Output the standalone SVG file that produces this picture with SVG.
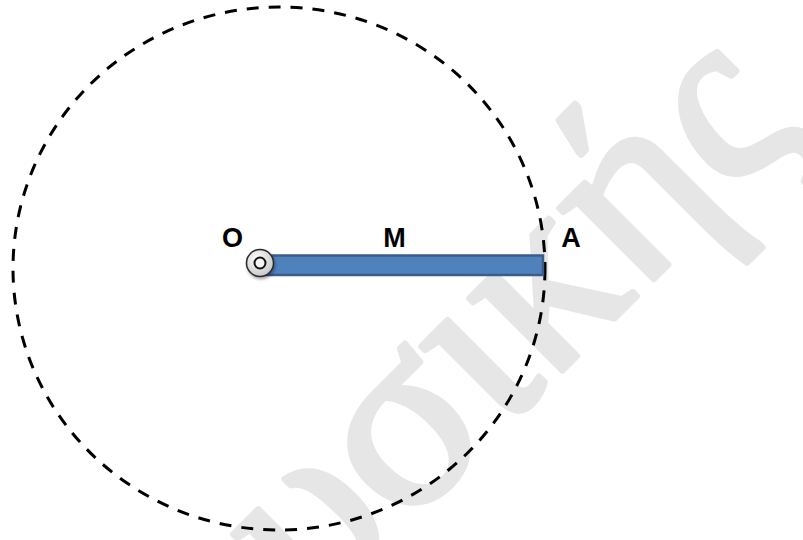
<svg xmlns="http://www.w3.org/2000/svg" width="803" height="540" viewBox="0 0 803 540">
  <defs>
    <radialGradient id="pivotGrad" cx="0.4" cy="0.35" r="0.7">
      <stop offset="0" stop-color="#ffffff"/>
      <stop offset="1" stop-color="#c4c4c4"/>
    </radialGradient>
    <filter id="shadow" x="-50%" y="-50%" width="200%" height="200%">
      <feDropShadow dx="1" dy="2" stdDeviation="1.5" flood-color="#000" flood-opacity="0.35"/>
    </filter>
  </defs>
  <style>
    .label { font-family: "Liberation Sans", Arial, sans-serif; font-weight: bold; font-size: 27px; fill: #000; text-anchor: middle; }
    .wm { font-family: "Liberation Serif", "DejaVu Serif", serif; font-size: 255px; fill: #e6e6e6; stroke: #e6e6e6; stroke-width: 6; stroke-linejoin: round; }
  </style>
  <rect width="803" height="540" fill="#ffffff"/>
  <g id="watermark">
    <text class="wm" x="0" y="0" text-anchor="end" transform="translate(805,128) rotate(-45)">Φυσικής</text>
  </g>
  <g id="connectors">
    <ellipse id="path" cx="279" cy="268.5" rx="266" ry="261.5" fill="none" stroke="#000" stroke-width="3" stroke-dasharray="12 10"/>
  </g>
  <g id="bar">
    <rect x="262" y="255.5" width="281" height="19.5" fill="#4f81bd" stroke="#3a5d89" stroke-width="2.5"/>
  </g>
  <g id="pivot">
    <circle cx="260" cy="263" r="13.5" fill="url(#pivotGrad)" stroke="#2a2a2a" stroke-width="1.5" filter="url(#shadow)"/>
    <circle cx="260" cy="263" r="5.5" fill="#f4f4f4" stroke="#111" stroke-width="2"/>
  </g>
  <g id="labels">
    <text class="label" x="232.5" y="246.5">O</text>
    <text class="label" x="394.5" y="246.5">M</text>
    <text class="label" x="571" y="246.5">A</text>
  </g>
</svg>
